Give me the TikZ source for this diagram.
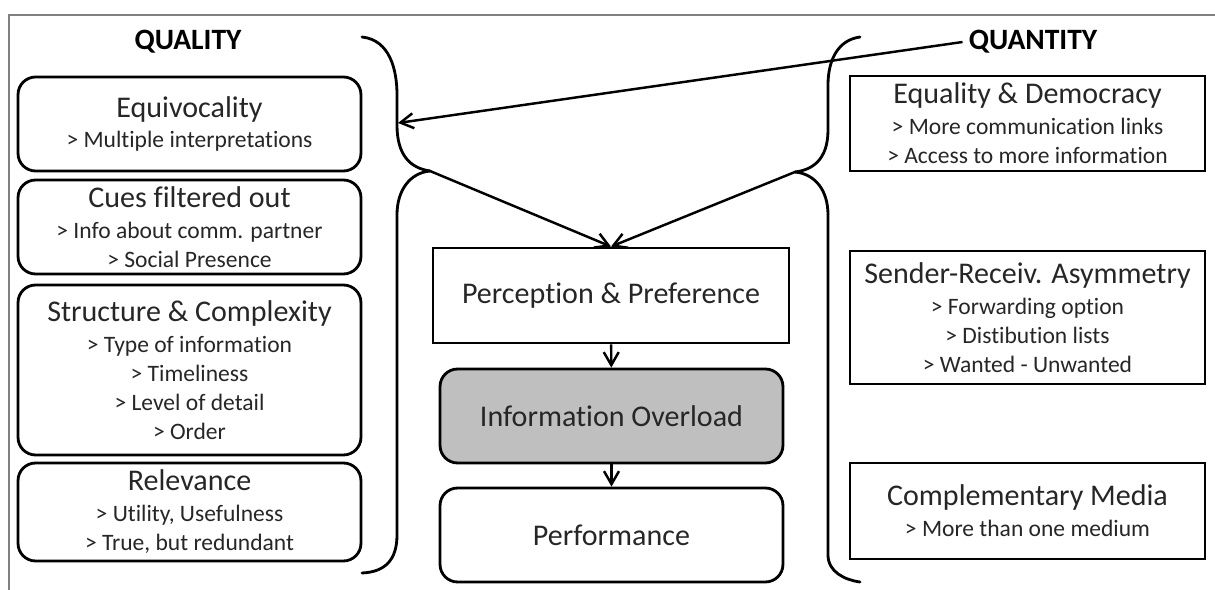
\documentclass[tikz,border=0pt]{standalone}
\usepackage{fontspec}
\setmainfont{Carlito}[Ligatures=NoCommon]
\usepackage{tikz}
\usetikzlibrary{arrows.meta,positioning}
\tikzset{
  box/.style={draw, line width=1.6pt, align=center, inner sep=2pt, text=black!85,
    font=\fontsize{13.4}{16.6}\selectfont},
  rbox/.style={box, rounded corners=10pt, minimum width=6.86cm},
  sbox/.style={box, minimum width=7.1cm},
  head/.style={font=\fontsize{16.8}{19}\selectfont\bfseries},
  arr/.style={-{Straight Barb[length=2.6mm,width=3mm]}, line width=1.4pt},
  brace/.style={line width=1.6pt, line cap=round},
  frame/.style={draw=black!50, line width=1.2pt}
}
\newcommand{\ttl}[1]{{\fontsize{17.1}{19}\selectfont #1}}

\begin{document}
\begin{tikzpicture}[x=0.02cm, y=-0.02cm]
\useasboundingbox (0,0) rectangle (1215,590);
\draw[frame] (9,590) -- (9,15) -- (1215,15);
\node[head] (quality) at (188,42) {QUALITY};
\node[head] (quantity) at (1033,42) {QUANTITY};
% quality side
\node[rbox, minimum height=1.88cm] (equiv) at (189.5,124) {\ttl{Equivocality}\\[1pt] > Multiple interpretations};
\node[rbox, minimum height=1.88cm] (cues) at (189.5,227) {\ttl{Cues filtered out}\\[1pt] > Info about comm. partner\\ > Social Presence};
\node[rbox, minimum height=3.4cm] (struct) at (189.5,370) {\ttl{Structure \& Complexity}\\[1pt] > Type of information\\ > Timeliness\\ > Level of detail\\ > Order};
\node[rbox, minimum height=1.96cm] (relev) at (189.5,512) {\ttl{Relevance}\\[1pt] > Utility, Usefulness\\ > True, but redundant};
% middle
\node[sbox, minimum width=7.12cm, minimum height=1.9cm] (percep) at (611,295.5) {\ttl{Perception \& Preference}};
\node[rbox, fill=black!25, minimum height=1.88cm] (overload) at (611.5,416) {\ttl{Information Overload}};
\node[rbox, minimum height=1.88cm] (perform) at (611.5,535) {\ttl{Performance}};
% quantity side
\node[sbox, minimum height=1.9cm] (equal) at (1027.5,123.5) {\ttl{Equality \& Democracy}\\[1pt] > More communication links\\ > Access to more information};
\node[sbox, minimum height=2.66cm] (asym) at (1027.5,317.5) {\ttl{Sender-Receiv. Asymmetry}\\[1pt] > Forwarding option\\ > Distibution lists\\ > Wanted - Unwanted};
\node[sbox, minimum height=1.92cm] (compl) at (1027.5,511) {\ttl{Complementary Media}\\[1pt] > More than one medium};
% braces
\coordinate (qlin) at (398,123);
\coordinate (qltip) at (430,171);
\coordinate (qntip) at (795,172);
\draw[brace] (362,37) .. controls (390,40) and (397,70) .. (397,95) -- (397,125) .. controls (397,155) and (410,168) .. (qltip);
\draw[brace] (qltip) .. controls (410,173) and (397,190) .. (397,215) -- (397,535) .. controls (397,560) and (385,572) .. (362,573);
\draw[brace] (860,37) .. controls (838,40) and (828,60) .. (828,85) -- (828,130) .. controls (828,160) and (812,170) .. (qntip);
\draw[brace] (qntip) .. controls (815,174) and (828,190) .. (828,215) -- (828,555) .. controls (828,572) and (845,580) .. (860,582);
% arrows
\draw[arr] (quantity.west) -- (qlin);
\draw[arr] (qltip) -- (percep.north);
\draw[arr] (qntip) -- (percep.north);
\draw[arr] (percep) -- (overload);
\draw[arr] (overload) -- (perform);
\end{tikzpicture}
\end{document}
